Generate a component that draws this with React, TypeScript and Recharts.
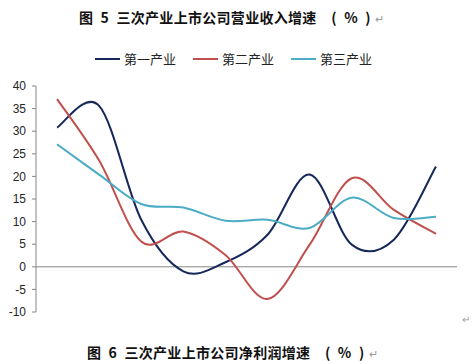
import { LineChart, Line, XAxis, YAxis, ReferenceLine } from 'recharts'

const years = ['2010', '2011', '2012', '2013', '2014', '2015', '2016', '2017', '2018', '2019']
const primary = [30.8, 35.6, 10.4, -1.0, 1.0, 7.1, 20.4, 4.9, 6.0, 22.2]
const secondary = [37.1, 23.5, 5.6, 7.8, 2.6, -7.1, 4.9, 19.6, 12.6, 7.3]
const tertiary = [27.1, 20.4, 13.9, 13.1, 10.2, 10.4, 8.6, 15.3, 10.8, 11.1]
const yTicks = [-10, -5, 0, 5, 10, 15, 20, 25, 30, 35, 40]

const series = [
  { key: 'primary', name: '第一产业', color: '#16285a' },
  { key: 'secondary', name: '第二产业', color: '#c0504d' },
  { key: 'tertiary', name: '第三产业', color: '#4bacc6' },
]

const data = years.map((year, i) => ({
  year,
  primary: primary[i],
  secondary: secondary[i],
  tertiary: tertiary[i],
}))

const W = 474
const H = 330
const margin = { top: 86, right: 17, bottom: 18, left: 0 }
const Y_AXIS_W = 36
const PLOT_W = W - margin.left - margin.right - Y_AXIS_W
const PLOT_H = H - margin.top - margin.bottom
const Y_MIN = -10
const Y_MAX = 40
const ZERO_Y = margin.top + (PLOT_H * Y_MAX) / (Y_MAX - Y_MIN)
const BAND = PLOT_W / years.length

const axisFont = '"Liberation Sans", Arial, sans-serif'
const cjkFont = '"Noto Sans CJK SC", sans-serif'

// Excel-style smoothed line (Catmull-Rom through the points)
function excelSmooth(context: any) {
  let pts: number[][] = []
  return {
    areaStart() {},
    areaEnd() {},
    lineStart() {
      pts = []
    },
    lineEnd() {
      if (!pts.length) return
      context.moveTo(pts[0][0], pts[0][1])
      for (let i = 0; i < pts.length - 1; i++) {
        const p0 = pts[i - 1] || pts[i]
        const p1 = pts[i]
        const p2 = pts[i + 1]
        const p3 = pts[i + 2] || p2
        context.bezierCurveTo(
          p1[0] + (p2[0] - p0[0]) / 6,
          p1[1] + (p2[1] - p0[1]) / 6,
          p2[0] - (p3[0] - p1[0]) / 6,
          p2[1] - (p3[1] - p1[1]) / 6,
          p2[0],
          p2[1]
        )
      }
    },
    point(x: number, y: number) {
      pts.push([+x, +y])
    },
  }
}

function YearTick(props: any) {
  const { x, payload } = props
  return (
    <g>
      <line x1={x + BAND / 2} x2={x + BAND / 2} y1={ZERO_Y} y2={ZERO_Y + 5} stroke="#868686" />
      <text x={x} y={ZERO_Y + 25} textAnchor="middle" fontSize={12} fill="#262626" fontFamily={axisFont}>
        {payload.value}
      </text>
    </g>
  )
}

const enterMark = <span style={{ color: '#9a9a9a', fontWeight: 400, fontSize: 11, marginLeft: 4 }}>↵</span>

function Title({ num, text, top, left }: { num: string; text: string; top: number; left: number }) {
  return (
    <div
      style={{
        position: 'absolute',
        top,
        left,
        fontFamily: cjkFont,
        fontWeight: 700,
        fontSize: 14,
        letterSpacing: 0.3,
        lineHeight: '20px',
        color: '#111',
        whiteSpace: 'pre',
      }}
    >
      {'图\u2002' + num + '\u2002' + text}
      {'\u2002\u2002(\u2002%\u2002)'}
      {enterMark}
    </div>
  )
}

export default function App() {
  return (
    <div style={{ position: 'absolute', left: 0, top: 0, width: W, height: 364, background: '#fff' }}>
      <Title num="5" text="三次产业上市公司营业收入增速" top={7} left={79} />
      <div
        style={{
          position: 'absolute',
          top: 50,
          left: 95,
          display: 'flex',
          gap: 17,
          fontFamily: cjkFont,
          fontSize: 13,
          color: '#222',
          lineHeight: '18px',
        }}
      >
        {series.map((s) => (
          <div key={s.key} style={{ display: 'flex', alignItems: 'center' }}>
            <span style={{ display: 'inline-block', width: 25, height: 2.5, background: s.color, marginRight: 4 }} />
            <span>{s.name}</span>
          </div>
        ))}
      </div>
      <LineChart width={W} height={H} data={data} margin={margin} style={{ position: 'absolute', left: 0, top: 0 }}>
        <XAxis
          dataKey="year"
          scale="band"
          height={0}
          axisLine={false}
          tickLine={false}
          tick={<YearTick />}
          interval={0}
        />
        <YAxis
          width={Y_AXIS_W}
          domain={[Y_MIN, Y_MAX]}
          ticks={yTicks}
          interval={0}
          stroke="#868686"
          tickSize={4}
          tickMargin={6}
          tick={{ fontSize: 12, fill: '#262626', fontFamily: axisFont }}
        />
        <ReferenceLine y={0} stroke="#868686" />
        {series.map((s) => (
          <Line
            key={s.key}
            dataKey={s.key}
            name={s.name}
            type={excelSmooth as any}
            stroke={s.color}
            strokeWidth={2}
            dot={false}
            activeDot={false}
            isAnimationActive={false}
          />
        ))}
      </LineChart>
      <Title num="6" text="三次产业上市公司净利润增速" top={342} left={87} />
      <div style={{ position: 'absolute', left: 462, top: 314, fontSize: 10, color: '#9a9a9a' }}>↵</div>
    </div>
  )
}
